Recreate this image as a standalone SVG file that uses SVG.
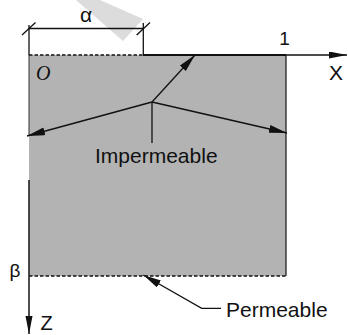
<svg xmlns="http://www.w3.org/2000/svg" width="348" height="335" viewBox="0 0 348 335">
<defs>
<style>
.t{font-family:"Liberation Sans",Arial,sans-serif;fill:#111;}
.ln{stroke:#111;stroke-width:1.3;fill:none;}
.dash{stroke:#111;stroke-width:1.5;stroke-dasharray:3.5 2;fill:none;}
</style>
<marker id="ah" markerUnits="userSpaceOnUse" markerWidth="20" markerHeight="10" refX="18" refY="4" orient="auto">
<path d="M0,0 L18,4 L0,8 z" fill="#111"/>
</marker>
<marker id="ax" markerUnits="userSpaceOnUse" markerWidth="20" markerHeight="8" refX="18" refY="3.5" orient="auto">
<path d="M0,0 L18,3.5 L0,7 z" fill="#111"/>
</marker>
</defs>
<rect width="348" height="335" fill="#fff"/>
<polygon points="76,0 100,0 143,19 123,41" fill="#dcdcdc"/>
<g id="domain">
<rect x="29" y="55" width="257" height="221" fill="#b3b3b3"/>
<line x1="29" y1="55" x2="29" y2="136" stroke="#333" stroke-width="1"/>
<line x1="286" y1="55" x2="286" y2="276" stroke="#222" stroke-width="1.3"/>
<line class="dash" x1="29" y1="55" x2="143" y2="55"/>
<line x1="143" y1="55" x2="286" y2="55" stroke="#111" stroke-width="2"/>
<line class="dash" x1="29" y1="276" x2="286" y2="276"/>
</g>
<g id="dimension">
<line class="ln" x1="29" y1="28.5" x2="143.3" y2="28.5" stroke-width="1.2"/>
<line class="ln" x1="29" y1="25" x2="29" y2="55" stroke-width="1.2"/>
<line class="ln" x1="143.3" y1="23" x2="143.3" y2="55" stroke-width="1.2"/>
<line class="ln" x1="22" y1="35" x2="35.5" y2="22.5" stroke-width="1.2"/>
<line class="ln" x1="136.7" y1="35" x2="150" y2="22.5" stroke-width="1.2"/>
<text class="t" x="86" y="21.5" font-size="21" text-anchor="middle">α</text>
</g>
<g id="axes">
<line class="ln" x1="286" y1="55" x2="347" y2="55" marker-end="url(#ax)"/>
<line x1="29" y1="180" x2="29" y2="334" stroke="#222" stroke-width="1.6" marker-end="url(#ax)"/>
<text class="t" x="284.5" y="45" font-size="19" text-anchor="middle">1</text>
<text class="t" x="336" y="80" font-size="21" text-anchor="middle">X</text>
<text class="t" x="46.5" y="330" font-size="20" text-anchor="middle">Z</text>
<text class="t" x="15" y="277" font-size="19" text-anchor="middle">β</text>
<text x="36" y="80" font-family="'Liberation Serif','Times New Roman',serif" font-style="italic" font-size="20" fill="#111">O</text>
</g>
<g id="connectors">
<line class="ln" x1="152" y1="102" x2="195" y2="55" marker-end="url(#ah)"/>
<line class="ln" x1="152" y1="102" x2="27" y2="136" marker-end="url(#ah)"/>
<line class="ln" x1="152" y1="102" x2="287" y2="133" marker-end="url(#ah)"/>
<line class="ln" x1="152" y1="102" x2="152" y2="143"/>
<polyline class="ln" points="221,308.3 201.7,308.3 143.3,275" marker-end="url(#ah)"/>
</g>
<g id="impermeable">
<text class="t" x="95" y="162.7" font-size="21">Impermeable</text>
</g>
<g id="permeable">
<text class="t" x="226" y="316.7" font-size="21">Permeable</text>
</g>
</svg>
